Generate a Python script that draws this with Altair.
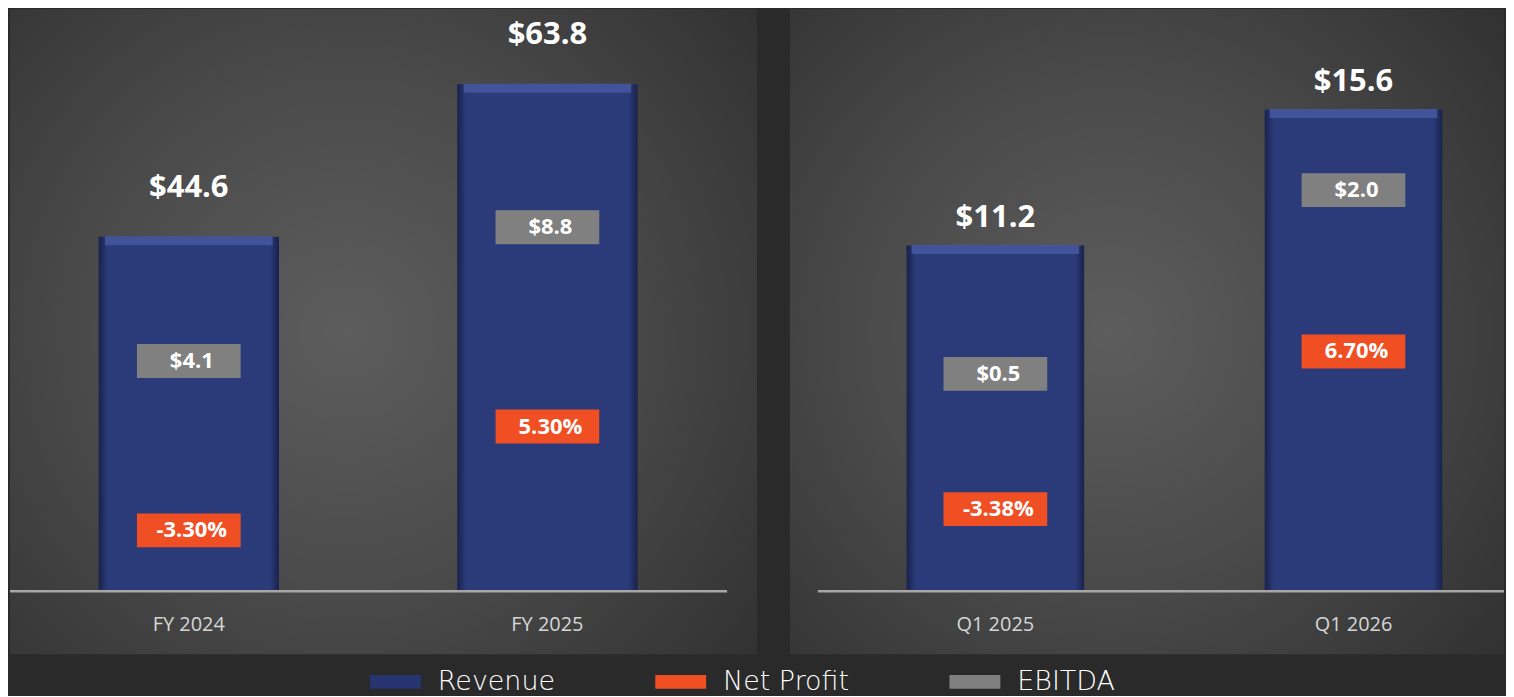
import altair as alt
import pandas as pd

# ---- data ----
periods_fy = ["FY 2024", "FY 2025"]
revenue_fy = [44.6, 63.8]
ebitda_fy = [4.1, 8.8]
net_margin_fy = [-3.30, 5.30]

periods_q = ["Q1 2025", "Q1 2026"]
revenue_q = [11.2, 15.6]
ebitda_q = [0.5, 2.0]
net_margin_q = [-3.38, 6.70]

series_names = ["Revenue", "Net Profit", "EBITDA"]
series_colors = ["#26346f", "#f04e23", "#808080"]

# ---- layout (label box placement as fraction of bar height) ----
ebitda_frac_fy = [0.650, 0.718]
np_frac_fy = [0.172, 0.325]
ebitda_frac_q = [0.629, 0.833]
np_frac_q = [0.238, 0.498]

PANEL_H = 647
BOX_PATH = "M-1,-0.327H1V0.327H-1Z"
LEG_PATH = "M-1,-0.27H1V0.27H-1Z"

bg_grad = alt.RadialGradient(
    gradient="radial",
    stops=[
        alt.GradientStop(offset=0, color="#5d5d5d"),
        alt.GradientStop(offset=0.45, color="#4a4a4a"),
        alt.GradientStop(offset=1, color="#2c2c2c"),
    ],
    x1=0.45, y1=0.5, x2=0.45, y2=0.5, r1=0, r2=0.78,
)
bar_grad = alt.LinearGradient(
    gradient="linear",
    stops=[
        alt.GradientStop(offset=0, color="#18224c"),
        alt.GradientStop(offset=0.05, color="#2b3a78"),
        alt.GradientStop(offset=0.95, color="#2b3a78"),
        alt.GradientStop(offset=1, color="#18224c"),
    ],
    x1=0, x2=1, y1=0, y2=0,
)


def fmt_money(v):
    return f"${v:.1f}"


def fmt_pct(v):
    return f"{v:.2f}%"


def panel(periods, revenue, ebitda, margin, e_frac, n_frac, width,
          p_inner, p_outer, align, ydom, dy, rule_x):
    bars = pd.DataFrame({"period": periods, "revenue": revenue,
                         "rlabel": [fmt_money(v) for v in revenue]})
    rows = []
    for p, r, e, m, ef, nf in zip(periods, revenue, ebitda, margin, e_frac, n_frac):
        rows.append({"period": p, "series": "EBITDA", "label": fmt_money(e), "pos": r * ef})
        rows.append({"period": p, "series": "Net Profit", "label": fmt_pct(m), "pos": r * nf})
    boxes = pd.DataFrame(rows)

    xs = alt.X("period:N", sort=periods,
               scale=alt.Scale(paddingInner=p_inner, paddingOuter=p_outer, align=align),
               axis=alt.Axis(title=None, orient="bottom", offset=-(PANEL_H - 584),
                             labelAngle=0, ticks=False, tickSize=0, domain=False,
                             grid=False, labelPadding=23, labelFont="Open Sans",
                             labelFontSize=20, labelColor="#d6d6d6", zindex=2))
    ys = alt.Y("revenue:Q", scale=alt.Scale(domain=ydom, nice=False, zero=False), axis=None)

    bg = alt.Chart(alt.Data(values=[{"a": 1}])).mark_rect(fill=bg_grad).encode(
        x=alt.value(0), x2=alt.value("width"), y=alt.value(0), y2=alt.value("height"))

    base = alt.Chart(bars)
    bar = base.mark_bar(fill=bar_grad).encode(x=xs, y=ys)
    bevel = base.mark_tick(color="#4658a0", thickness=9, size=168, yOffset=4, opacity=0.85).encode(
        x=alt.X("period:N", sort=periods), y=alt.Y("revenue:Q"))
    rtext = base.mark_text(font="Open Sans", fontWeight="bold", fontSize=31, color="white",
                           baseline="alphabetic", dy=dy).encode(
        x=alt.X("period:N", sort=periods), y=alt.Y("revenue:Q"), text="rlabel:N")

    rule = alt.Chart(alt.Data(values=[{"a": 1}])).mark_rule(color="#a6a6a6", strokeWidth=2.5).encode(
        x=alt.value(rule_x[0]), x2=alt.value(rule_x[1]), y=alt.value(584))

    bx = alt.Chart(boxes).mark_point(filled=True, shape=BOX_PATH, size=104 * 104, opacity=1,
                                     strokeWidth=0).encode(
        x=alt.X("period:N", sort=periods),
        y=alt.Y("pos:Q"),
        color=alt.Color("series:N",
                        scale=alt.Scale(domain=series_names, range=series_colors),
                        legend=alt.Legend(title=None)),
    )
    btext = alt.Chart(boxes).mark_text(font="Open Sans", fontWeight="bold", fontSize=22,
                                       color="white", baseline="middle", dx=3).encode(
        x=alt.X("period:N", sort=periods), y=alt.Y("pos:Q"), text="label:N")

    return alt.layer(bg, bar, bevel, rule, rtext, bx, btext).properties(
        width=width, height=PANEL_H)


left = panel(periods_fy, revenue_fy, ebitda_fy, net_margin_fy, ebitda_frac_fy, np_frac_fy,
             749, 0.497, 0.29, 0.426, [-7.90, 73.27], -40, [0, 719])
right = panel(periods_q, revenue_q, ebitda_q, net_margin_q, ebitda_frac_q, np_frac_q,
              716, 0.504, 0.249, 0.654, [-2.03, 18.86], -19, [28, 716])

chart = alt.hconcat(left, right, spacing=33).resolve_scale(
    x="independent", y="independent", color="shared"
).configure(
    background="#2a2a2a", padding=0
).configure_view(stroke=None).configure_legend(
    orient="none", legendX=361, legendY=649, direction="horizontal",
    symbolType=LEG_PATH, symbolSize=51 * 51, symbolStrokeWidth=0,
    labelFont="DejaVu Sans", labelFontWeight=200, labelFontSize=27, labelColor="#ffffff",
    labelOffset=17, columnPadding=100, padding=0, labelLimit=400,
)

chart.save("out.html", embed_options={"renderer": "svg", "actions": False})
